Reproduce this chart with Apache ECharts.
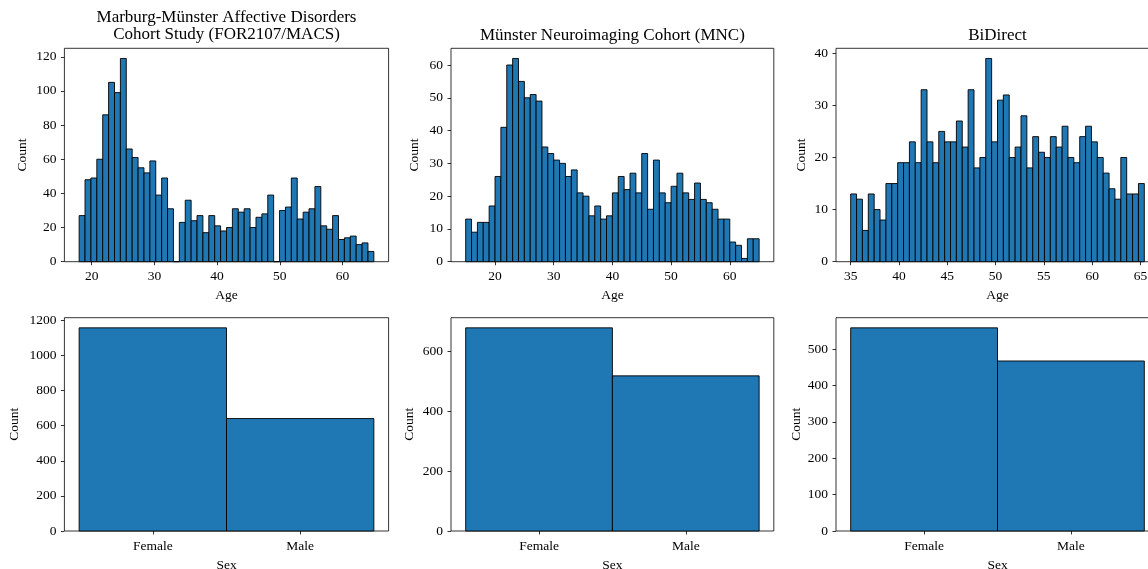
<!DOCTYPE html>
<html>
<head>
<meta charset="utf-8">
<script src="https://cdn.jsdelivr.net/npm/echarts@6/dist/echarts.min.js"></script>
<style>
  html, body { margin: 0; padding: 0; background: #fff; }
  #chart { width: 1148px; height: 569px; }
</style>
</head>
<body>
<div id="chart"></div>
<script>
// ---- Cohort data -------------------------------------------------------
const cohortTitles = [
  'Marburg-Münster Affective Disorders\nCohort Study (FOR2107/MACS)',
  'Münster Neuroimaging Cohort (MNC)',
  'BiDirect'
];

// Age histograms: 50 equal-width bins between the given range limits
const ageRangeMACS = [18, 65];
const ageCountsMACS = [
  27, 48, 49, 60, 86, 105, 99, 119, 66, 61,
  55, 52, 59, 39, 49, 31, 0, 23, 36, 24,
  27, 17, 27, 21, 18, 20, 31, 29, 31, 20,
  26, 28, 39, 0, 30, 32, 49, 25, 29, 31,
  44, 21, 19, 27, 13, 14, 15, 10, 11, 6
];

const ageRangeMNC = [15, 65];
const ageCountsMNC = [
  13, 9, 12, 12, 17, 26, 41, 60, 62, 55,
  50, 51, 49, 35, 33, 31, 30, 26, 28, 21,
  20, 14, 17, 13, 14, 21, 26, 22, 27, 21,
  33, 16, 31, 21, 18, 23, 27, 21, 19, 24,
  19, 18, 16, 13, 13, 6, 5, 1, 7, 7
];

const ageRangeBiDirect = [35, 65.4];
const ageCountsBiDirect = [
  13, 12, 6, 13, 10, 8, 15, 15, 19, 19,
  23, 19, 33, 23, 19, 25, 23, 23, 27, 22,
  33, 18, 20, 39, 23, 31, 32, 20, 22, 28,
  18, 24, 21, 20, 24, 22, 26, 20, 19, 24,
  26, 23, 20, 17, 14, 12, 20, 13, 13, 15
];

// Sex counts
const sexCategories = ['Female', 'Male'];
const sexCountsMACS = [1158, 641];
const sexCountsMNC = [677, 517];
const sexCountsBiDirect = [558, 467];

// Tick labels
const ageTicksMACS = [20, 30, 40, 50, 60];
const ageTicksMNC = [20, 30, 40, 50, 60];
const ageTicksBiDirect = [35, 40, 45, 50, 55, 60, 65];
const ageCountTicksMACS = [0, 20, 40, 60, 80, 100, 120];
const ageCountTicksMNC = [0, 10, 20, 30, 40, 50, 60];
const ageCountTicksBiDirect = [0, 10, 20, 30, 40];
const sexCountTicksMACS = [0, 200, 400, 600, 800, 1000, 1200];
const sexCountTicksMNC = [0, 200, 400, 600];
const sexCountTicksBiDirect = [0, 100, 200, 300, 400, 500];

// ---- Layout & style ----------------------------------------------------
const FONT = '"Liberation Serif", "DejaVu Serif", serif';
const LABEL_SIZE = 13.5;
const BAR_FILL = '#1f77b4';
const columns = [
  { left: 64.4, width: 324.2 },
  { left: 451, width: 322.8 },
  { left: 836, width: 323 }
];
const rows = [
  { top: 48.3, height: 213.4 },
  { top: 317.7, height: 213.3 }
];
const yNameGaps = [[34.5, 29.5, 27.5], [43, 35, 32.5]];
const xLabelMargins = [8, 8.5];
const xNameGaps = [27, 27];

// Histogram bins -> [start, count, end]
function binsFrom(range, counts) {
  const w = (range[1] - range[0]) / counts.length;
  return counts.map((c, i) => [range[0] + i * w, c, range[0] + (i + 1) * w]);
}
// Categorical bars of unit width centred on 0, 1, ...
function sexBars(counts) {
  return counts.map((c, i) => [i - 0.5, c, i + 0.5]);
}

function renderBar(params, api) {
  const p0 = api.coord([api.value(0), 0]);
  const p1 = api.coord([api.value(2), api.value(1)]);
  return {
    type: 'rect',
    shape: { x: p0[0], y: p1[1], width: p1[0] - p0[0], height: p0[1] - p1[1] },
    style: { fill: BAR_FILL, stroke: '#000', lineWidth: 0.9 }
  };
}

const panels = [
  { row: 0, col: 0, data: binsFrom(ageRangeMACS, ageCountsMACS), xr: ageRangeMACS, xt: ageTicksMACS, yt: ageCountTicksMACS, ymax: Math.max(...ageCountsMACS), xname: 'Age' },
  { row: 0, col: 1, data: binsFrom(ageRangeMNC, ageCountsMNC), xr: ageRangeMNC, xt: ageTicksMNC, yt: ageCountTicksMNC, ymax: Math.max(...ageCountsMNC), xname: 'Age' },
  { row: 0, col: 2, data: binsFrom(ageRangeBiDirect, ageCountsBiDirect), xr: ageRangeBiDirect, xt: ageTicksBiDirect, yt: ageCountTicksBiDirect, ymax: Math.max(...ageCountsBiDirect), xname: 'Age' },
  { row: 1, col: 0, data: sexBars(sexCountsMACS), xr: [-0.5, 1.5], xt: [0, 1], yt: sexCountTicksMACS, ymax: Math.max(...sexCountsMACS), xname: 'Sex', cat: true },
  { row: 1, col: 1, data: sexBars(sexCountsMNC), xr: [-0.5, 1.5], xt: [0, 1], yt: sexCountTicksMNC, ymax: Math.max(...sexCountsMNC), xname: 'Sex', cat: true },
  { row: 1, col: 2, data: sexBars(sexCountsBiDirect), xr: [-0.5, 1.5], xt: [0, 1], yt: sexCountTicksBiDirect, ymax: Math.max(...sexCountsBiDirect), xname: 'Sex', cat: true }
];

const tickStyle = { show: true, length: 3.5, inside: false, lineStyle: { color: '#000', width: 0.8 } };
const labelStyle = { color: '#000', fontFamily: FONT, fontSize: LABEL_SIZE };
const nameStyle = { color: '#000', fontFamily: FONT, fontSize: LABEL_SIZE };

const grid = [], xAxis = [], yAxis = [], series = [];
panels.forEach((p, i) => {
  const c = columns[p.col], r = rows[p.row];
  grid.push({
    left: c.left, top: r.top, width: c.width, height: r.height,
    show: true, borderColor: '#000', borderWidth: 0.8, backgroundColor: 'transparent',
    containLabel: false, outerBoundsMode: 'none'
  });
  const span = p.xr[1] - p.xr[0];
  xAxis.push({
    type: 'value', gridIndex: i, position: 'bottom',
    min: p.xr[0] - 0.05 * span, max: p.xr[1] + 0.05 * span,
    splitLine: { show: false },
    axisLine: { show: false, onZero: false },
    axisTick: Object.assign({}, tickStyle, { customValues: p.xt }),
    axisLabel: Object.assign({}, labelStyle, {
      margin: xLabelMargins[p.row],
      customValues: p.xt,
      formatter: p.cat ? (v) => sexCategories[Math.round(v)] : (v) => String(v)
    }),
    name: p.xname, nameLocation: 'middle', nameGap: xNameGaps[p.row],
    nameTextStyle: nameStyle
  });
  yAxis.push({
    type: 'value', gridIndex: i, position: 'left',
    min: 0, max: p.ymax * 1.05,
    splitLine: { show: false },
    axisLine: { show: false, onZero: false },
    axisTick: Object.assign({}, tickStyle, { customValues: p.yt }),
    axisLabel: Object.assign({}, labelStyle, { margin: 8, customValues: p.yt, formatter: (v) => String(v) }),
    name: 'Count', nameLocation: 'middle', nameGap: yNameGaps[p.row][p.col], nameRotate: 90,
    nameTextStyle: nameStyle
  });
  series.push({
    type: 'custom', xAxisIndex: i, yAxisIndex: i,
    renderItem: renderBar,
    encode: { x: [0, 2], y: 1 },
    data: p.data,
    clip: false,
    silent: true
  });
});

const title = cohortTitles.map((t, i) => ({
  text: t,
  left: columns[i].left + columns[i].width / 2,
  top: i === 0 ? 9 : 27,
  textAlign: 'center',
  padding: 0,
  textStyle: { color: '#000', fontFamily: FONT, fontSize: 17, fontWeight: 'normal', lineHeight: 17 }
}));

const chart = echarts.init(document.getElementById('chart'), null, { renderer: 'canvas' });
chart.setOption({
  animation: false,
  backgroundColor: '#fff',
  tooltip: { show: false },
  title, grid, xAxis, yAxis, series
});
</script>
</body>
</html>
